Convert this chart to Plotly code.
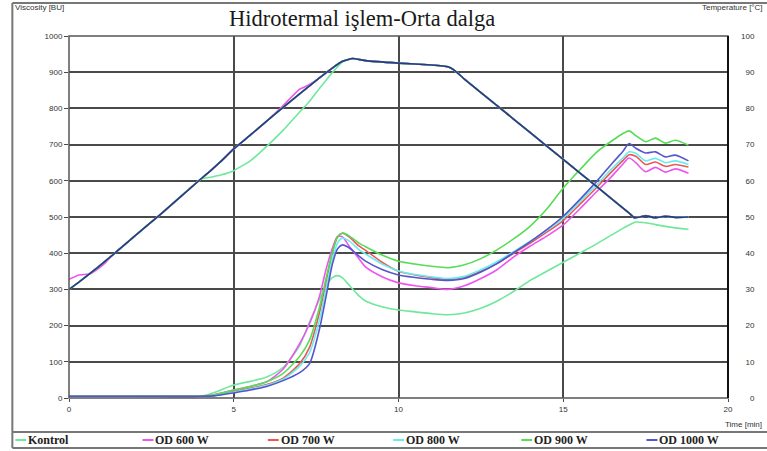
import plotly.graph_objects as go

# ---------------- data ----------------
time = [0, 2, 4.0, 4.4, 5, 5.5, 6, 6.5, 7, 7.3, 7.6, 7.8, 8.0, 8.15, 8.3, 8.5, 8.8, 9.0, 9.5, 10,
        10.5, 11, 11.5, 12, 12.5, 13, 13.5, 14, 14.5, 15, 15.5, 16, 16.5, 16.8, 17.0, 17.2, 17.5,
        17.8, 18.1, 18.4, 18.8]

kontrol = [5, 5, 5, 15, 36, 46, 58, 85, 145, 210, 272, 310, 333, 338, 332, 312, 282, 268, 252, 243,
           238, 233, 230, 235, 248, 268, 295, 325, 350, 375, 400, 425, 452, 468, 478, 486, 484,
           479, 474, 470, 466]
od600 = [5, 5, 5, 9, 22, 32, 45, 80, 150, 205, 280, 355, 415, 446, 445, 420, 385, 362, 335, 318,
         310, 305, 300, 310, 330, 355, 390, 420, 447, 478, 522, 569, 615, 645, 663, 650, 625,
         637, 624, 633, 621]
od700 = [5, 5, 5, 7, 18, 27, 37, 55, 95, 140, 235, 320, 405, 445, 455, 445, 420, 408, 375, 350,
         340, 333, 328, 333, 350, 372, 400, 428, 458, 490, 535, 580, 628, 655, 672, 668, 645,
         652, 640, 645, 638]
od800 = [5, 5, 5, 6, 16, 25, 35, 52, 88, 125, 215, 300, 385, 428, 442, 434, 410, 398, 370, 351,
         341, 335, 330, 336, 354, 377, 405, 433, 463, 497, 542, 588, 636, 662, 680, 676, 655,
         662, 650, 655, 645]
od900 = [5, 5, 5, 8, 22, 32, 45, 68, 115, 160, 250, 330, 405, 445, 456, 448, 428, 418, 395, 378,
         370, 364, 360, 368, 385, 410, 440, 475, 522, 580, 630, 678, 712, 730, 738, 725, 708,
         718, 704, 712, 698]
od1000 = [5, 5, 5, 6, 14, 22, 32, 48, 70, 95, 190, 280, 372, 412, 423, 415, 392, 378, 355, 340,
          333, 328, 325, 330, 348, 372, 402, 432, 465, 502, 548, 597, 650, 680, 703, 690, 677,
          680, 666, 671, 655]

temp_time = [0, 0.3, 0.65, 0.9, 1.1, 1.3, 1.45, 2, 2.75, 4, 4.3, 4.6, 5, 5.5, 6, 6.5, 7, 7.3,
             7.6, 8, 8.3, 8.6, 9, 10, 11, 11.5, 11.7, 12, 13, 14, 15, 16, 17, 17.15, 17.5, 17.8,
             18.1, 18.4, 18.8]
temp_main = [30, 32, 34.5, 36.3, 37.8, 39.3, 40.5, 44.8, 50.5, 60.5, 62.8, 65.3, 68.8, 72.6, 76.5,
             80.3, 84, 86.2, 88.4, 91.2, 93, 93.8, 93.2, 92.5, 92, 91.5, 90.5, 88.1, 80.7, 73.3,
             65.9, 58.5, 51.1, 49.8, 50.3, 49.8, 50.2, 49.9, 50]
temp_kontrol = [30, 32, 34.5, 36.3, 37.8, 39.3, 40.5, 44.8, 50.5, 60.5, 61.0, 61.6, 62.8, 65.5,
                69.5, 74, 79, 82, 85.5, 90, 92.8, 93.8, 93.2, 92.5, 92, 91.5, 90.5, 88.1, 80.7,
                73.3, 65.9, 58.5, 51.1, 49.8, 50.3, 49.8, 50.2, 49.9, 50]
temp_od600 = [32.8, 34.0, 34.3, 35.8, 37.3, 39.3, 40.5, 44.8, 50.5, 60.5, 62.8, 65.3, 68.8, 72.6,
              76.5, 80.8, 85.3, 86.6, 88.4, 91.2, 93, 93.8, 93.2, 92.5, 92, 91.5, 90.5, 88.1,
              80.7, 73.3, 65.9, 58.5, 51.1, 49.8, 50.4, 49.8, 50.3, 49.9, 50]

names = ["Kontrol", "OD 600 W", "OD 700 W", "OD 800 W", "OD 900 W", "OD 1000 W"]
colors = ["#6ee89a", "#ee55ee", "#ee5555", "#66eeee", "#55dd55", "#5555cc"]
visc = [kontrol, od600, od700, od800, od900, od1000]
temps = [temp_kontrol, temp_od600, temp_main, temp_main, temp_main, temp_main]

x_ticks = [0, 5, 10, 15, 20]
y_ticks = list(range(0, 1001, 100))
y2_ticks = list(range(0, 101, 10))

# ---------------- figure ----------------
W, H = 767, 451
L, R, T, B = 69, 35, 36, 53
PW, PH = W - L - R, H - T - B


def px(p):
    return (p - L) / PW


def py(p):
    return (H - B - p) / PH


fig = go.Figure()
for n, c, v in zip(names, colors, visc):
    fig.add_trace(go.Scatter(x=time, y=v, name=n, mode="lines",
                             line=dict(color=c, width=1.6, shape="spline", smoothing=0.7),
                             showlegend=False))
temp_colors = colors[:-1] + ["#2e3590"]
for n, c, tv in zip(names, temp_colors, temps):
    fig.add_trace(go.Scatter(x=temp_time, y=tv, name=n + " temp", mode="lines", yaxis="y2",
                             line=dict(color=c, width=1.6, shape="spline", smoothing=0.3),
                             showlegend=False))

tick_font = dict(family="Liberation Sans", size=8, color="#333333")
fsp = "\u2007"
fig.update_layout(
    width=W, height=H,
    margin=dict(l=L, r=R, t=T, b=B),
    paper_bgcolor="white", plot_bgcolor="white",
    xaxis=dict(range=[0, 20], tickvals=x_ticks, showgrid=True, gridcolor="#4a4a4a", gridwidth=1.5,
               zeroline=False, ticks="outside", ticklen=3, tickcolor="#4a4a4a",
               tickfont=tick_font, showline=False),
    yaxis=dict(range=[0, 1000], tickvals=y_ticks, showgrid=True, gridcolor="#4a4a4a",
               gridwidth=1.5, zeroline=False, ticks="outside", ticklen=4, tickcolor="#4a4a4a",
               tickfont=tick_font, showline=False),
    yaxis2=dict(range=[0, 100], overlaying="y", side="right", tickvals=y2_ticks,
                ticktext=[fsp * (3 - len(str(v))) + str(v) for v in y2_ticks],
                showgrid=False, zeroline=False, ticks="", tickfont=tick_font,
                ticklabelstandoff=12, showline=False),
)

shapes = []
# plot frame
shapes.append(dict(type="rect", xref="paper", yref="paper", x0=0, x1=1, y0=0, y1=1,
                   line=dict(color="#555555", width=1.5), layer="above"))
shapes.append(dict(type="line", xref="paper", yref="paper", x0=1, x1=1, y0=0, y1=1,
                   line=dict(color="#111111", width=2), layer="above"))
# outer frame
fx0, fy0, fy1, fyl = px(12), py(3), py(448), py(432)
for yy in (fy0, fy1, fyl):
    shapes.append(dict(type="line", xref="paper", yref="paper", x0=fx0, x1=px(W + 5), y0=yy, y1=yy,
                       line=dict(color="#777777", width=2)))
shapes.append(dict(type="line", xref="paper", yref="paper", x0=fx0, x1=fx0, y0=fy0, y1=fy1,
                   line=dict(color="#777777", width=2)))

small = dict(family="Liberation Sans", size=8, color="#333333")
annotations = [
    dict(text="Hidrotermal işlem-Orta dalga", x=px(364), y=py(19), xref="paper", yref="paper",
         xanchor="center", yanchor="middle", showarrow=False,
         font=dict(family="Liberation Serif", size=22.5, color="#1a1a1a")),
    dict(text="Viscosity [BU]", x=px(13), y=py(8), xref="paper", yref="paper", xanchor="left",
         yanchor="middle", showarrow=False, font=small),
    dict(text="Temperature [°C]", x=px(704), y=py(8), xref="paper", yref="paper", xanchor="left",
         yanchor="middle", showarrow=False, font=small),
    dict(text="Time [min]", x=px(727), y=py(424), xref="paper", yref="paper", xanchor="left",
         yanchor="middle", showarrow=False, font=small),
]

leg_x = [15, 143, 269, 395, 524, 650]
leg_y = py(440)
for n, c, lx in zip(names, colors, leg_x):
    shapes.append(dict(type="line", xref="paper", yref="paper", x0=px(lx), x1=px(lx + 11),
                       y0=leg_y, y1=leg_y, line=dict(color=c, width=2)))
    annotations.append(dict(text="<b>%s</b>" % n, x=px(lx + 11), y=leg_y, xref="paper",
                            yref="paper", xanchor="left", yanchor="middle", showarrow=False,
                            font=dict(family="Liberation Serif", size=12, color="#222222")))

fig.update_layout(shapes=shapes, annotations=annotations)
fig.write_html("out.html")
